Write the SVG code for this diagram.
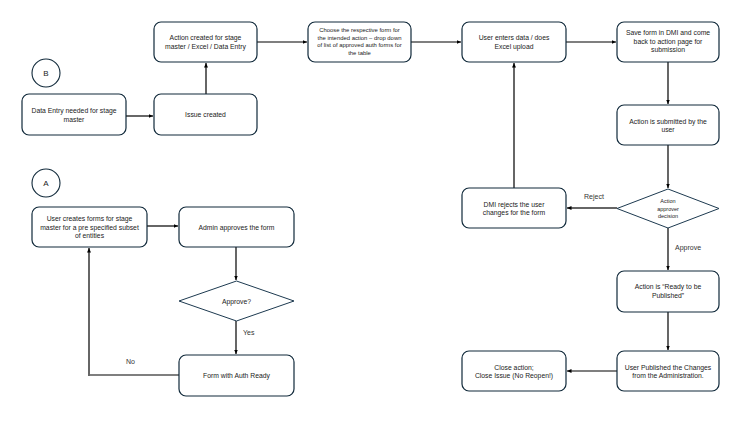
<svg xmlns="http://www.w3.org/2000/svg" width="749" height="421" viewBox="0 0 749 421">
<defs>
<style>
.box{fill:#fff;stroke:#10293a;stroke-width:1.2}
.dia{fill:#fff;stroke:#1d3a50;stroke-width:1}
.t{font-family:"Liberation Sans",Arial,sans-serif;font-size:6.8px;fill:#222;text-anchor:middle}
.s{font-size:5.9px}
.xs{font-size:5.5px}
.lbl{font-family:"Liberation Sans",Arial,sans-serif;font-size:7px;fill:#333}
.c{fill:none;stroke:#000;stroke-width:1.2}
.g{fill:none;stroke:#666;stroke-width:2}
</style>
<marker id="ah" viewBox="0 0 10 10" refX="9" refY="5" markerWidth="5" markerHeight="5" orient="auto-start-reverse" markerUnits="userSpaceOnUse"><path d="M0,1 L9,5 L0,9 z" fill="#000"/></marker>
</defs>
<rect width="749" height="421" fill="#fff"/>
<g id="connectors">
<path class="c" d="M126,116 H153" marker-end="url(#ah)"/>
<path class="g" d="M206,94 V63" marker-end="url(#ah)"/>
<path class="c" d="M257,42 H307" marker-end="url(#ah)"/>
<path class="c" d="M411,42 H461" marker-end="url(#ah)"/>
<path class="c" d="M566,42 H616" marker-end="url(#ah)"/>
<path class="c" d="M668,62 V104" marker-end="url(#ah)"/>
<path class="c" d="M668,145 V188" marker-end="url(#ah)"/>
<path class="g" d="M617,208 H567" marker-end="url(#ah)"/>
<path class="g" d="M514,188 V63" marker-end="url(#ah)"/>
<path class="c" d="M668,228 V270" marker-end="url(#ah)"/>
<path class="c" d="M668,312 V350" marker-end="url(#ah)"/>
<path class="c" d="M617,371 H567" marker-end="url(#ah)"/>
<path class="c" d="M147,226 H178" marker-end="url(#ah)"/>
<path class="c" d="M236,247 V280" marker-end="url(#ah)"/>
<path class="c" d="M236,321 V354" marker-end="url(#ah)"/>
<path class="c" d="M179,375 H89"/>
<path class="g" d="M89,376 V248" marker-end="url(#ah)"/>
<text class="lbl" x="584" y="199">Reject</text>
<text class="lbl" x="675" y="250">Approve</text>
<text class="lbl" x="243" y="335">Yes</text>
<text class="lbl" x="126" y="364">No</text>
</g>
<g id="circleB"><circle cx="46" cy="73" r="14" fill="#fff" stroke="#10293a" stroke-width="1.1"/><text class="t" x="46" y="76" style="font-size:8px">B</text></g>
<g id="circleA"><circle cx="46" cy="183" r="14" fill="#fff" stroke="#10293a" stroke-width="1.1"/><text class="t" x="46" y="186" style="font-size:8px">A</text></g>
<g id="n-dataentry"><rect class="box" x="22" y="94" width="104" height="41" rx="7"/><text class="t" x="74" y="113">Data Entry needed for stage</text><text class="t" x="74" y="121.5">master</text></g>
<g id="n-issue"><rect class="box" x="154" y="94" width="103" height="41" rx="7"/><text class="t" x="205.5" y="117">Issue created</text></g>
<g id="n-action"><rect class="box" x="154" y="22" width="103" height="40" rx="7"/><text class="t" x="205.5" y="40">Action created for stage</text><text class="t" x="205.5" y="48.5">master / Excel / Data Entry</text></g>
<g id="n-choose"><rect class="box" x="308" y="22" width="103" height="40" rx="7"/><text class="t s" x="359.5" y="32">Choose the respective form for</text><text class="t s" x="359.5" y="39.5">the intended action – drop down</text><text class="t s" x="359.5" y="47">of list of approved auth forms for</text><text class="t s" x="359.5" y="54.5">the table</text></g>
<g id="n-userenters"><rect class="box" x="462" y="22" width="104" height="40" rx="7"/><text class="t" x="514" y="40">User enters data / does</text><text class="t" x="514" y="48.5">Excel upload</text></g>
<g id="n-save"><rect class="box" x="617" y="22" width="102" height="40" rx="7"/><text class="t" x="668" y="35">Save form in DMI and come</text><text class="t" x="668" y="43.5">back to action page for</text><text class="t" x="668" y="52">submission</text></g>
<g id="n-submitted"><rect class="box" x="617" y="105" width="102" height="40" rx="7"/><text class="t" x="668" y="123.5">Action is submitted by the</text><text class="t" x="668" y="132">user</text></g>
<g id="n-decision"><polygon class="dia" points="668,189 719,208.5 668,228 617,208.5"/><text class="t xs" x="668" y="203">Action</text><text class="t xs" x="668" y="210.5">approver</text><text class="t xs" x="668" y="218">decision</text></g>
<g id="n-rejects"><rect class="box" x="462" y="188" width="104" height="40" rx="7"/><text class="t" x="514" y="206.5">DMI rejects the user</text><text class="t" x="514" y="215">changes for the form</text></g>
<g id="n-ready"><rect class="box" x="617" y="271" width="102" height="41" rx="7"/><text class="t" x="668" y="289">Action is “Ready to be</text><text class="t" x="668" y="297.5">Published”</text></g>
<g id="n-published"><rect class="box" x="617" y="351" width="102" height="40" rx="7"/><text class="t" x="668" y="369.5">User Published the Changes</text><text class="t" x="668" y="378">from the Administration.</text></g>
<g id="n-close"><rect class="box" x="462" y="351" width="104" height="40" rx="7"/><text class="t" x="514" y="369.5">Close action;</text><text class="t" x="514" y="378">Close Issue (No Reopen!)</text></g>
<g id="n-usercreates"><rect class="box" x="32" y="207" width="115" height="40" rx="7"/><text class="t" x="89.5" y="221">User creates forms for stage</text><text class="t" x="89.5" y="229.5">master for a pre specified subset</text><text class="t" x="89.5" y="238">of entities</text></g>
<g id="n-admin"><rect class="box" x="179" y="207" width="115" height="40" rx="7"/><text class="t" x="236.5" y="229.5">Admin approves the form</text></g>
<g id="n-approveq"><polygon class="dia" points="236.5,281 294,301 236.5,321 179,301"/><text class="t" x="236.5" y="303.5">Approve?</text></g>
<g id="n-formauth"><rect class="box" x="179" y="355" width="115" height="41" rx="7"/><text class="t" x="236.5" y="378">Form with Auth Ready</text></g>
</svg>
